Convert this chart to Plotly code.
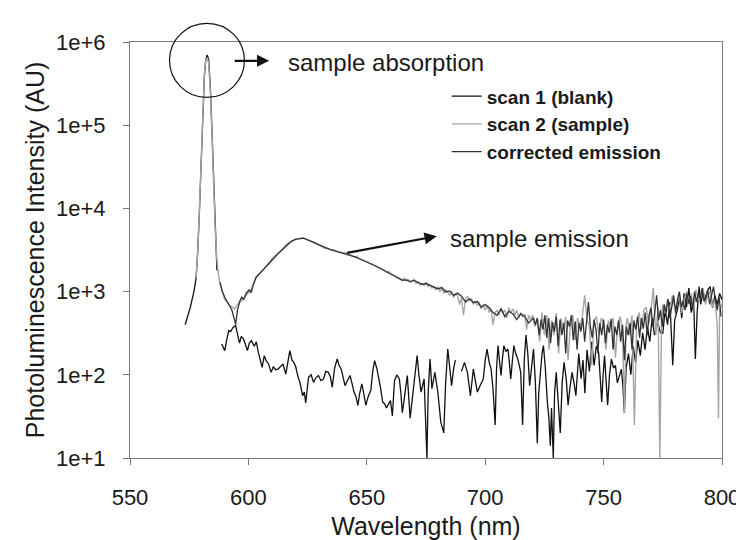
import plotly.graph_objects as go

# scan 1 (blank) -- None marks the breaks in the trace
blank_nm = [573.3, 574, 574.8, 575.5, 576.2, 577, 577.9, 578.6, 579.3, 580, 580.7, 581.4, 582, 582.6,
            583.2, 583.9, 584.6, 585.3, 586, 586.7, 587.5,
            588.75, 590, 590.8, 591.7, 592.5, 593.5, 594.6, 595.4, 596.25, 597, 597.9, 598.8, 599.6,
            600.4, 601.25, 602.5, 603.3, 604.2, 605, 605.8, 606.7, 607.5, 608.5, 609.6, 610.5, 611.5,
            612.5, 613.5, 614.6, 615.8, 616.6, 617.5, 618.4, 619.2, 620, 620.8, 621.8, 622.9, 623.6,
            624.2, 625.4, 626.5, 627.5, 628.5, 629.6, 630.6, 631.7, 632.7, 633.75, 634.6, 635.4, 636.4,
            637.5, 638.3, 639.2, 640, 640.8, 641.8, 642.9, 643.7, 644.6, 645.4, 646.25, 647, 647.9,
            648.7, 649.6, 650.6, 651.7, 652.5, 653.3, 654.2, 655, 655.8, 656.7, 657.5, 658.3, 659.2,
            660, 660.8, 661.7, 662.7, 663.75, 664.4, 665, 665.8, 667.1, 668.3, 669.2, 670, 671.25, 672,
            672.9, 674.2, 675, 675.4, 675.9, 676.7, 677.5, 678.75, 680, 680.6, 681.25, 682.5, 683.3,
            684.2, 685, 685.8, 686.7, 687.4, 688.5,
            690, 691.25, 692.5, 693.75, 695, 695.8, 696.7, 697.9, 699.2, 700, 700.8, 701.7, 702.5,
            703.3, 704.2, 704.8, 705.4, 706, 706.7, 707.3, 707.9, 708.7, 709.6, 710.2, 710.8, 711.5,
            712.1, 712.9, 713.75, 714.4, 715, 715.8, 716.5, 717.2, 718, 718.75, 719.6, 720.4, 721.2,
            722, 722.6, 723.3, 724, 724.6, 725.4, 726.25, 726.9, 727.5, 728, 728.75, 729.3, 730, 730.4,
            731, 731.7, 732.5, 733.3, 734.2, 735, 735.8, 736.7, 737.5, 738.3, 739.5, 740.5, 741.3,
            742.1, 743, 744, 745, 746, 746.9, 747.9, 748.6, 749.2, 749.8, 750.4, 751, 751.7, 752.5,
            753.3, 754.2, 755, 755.8, 756.7, 757.5, 758.2, 758.75, 759.5, 760.5, 761.5, 762.5, 763.5,
            764.5, 765.5, 766.5, 767.5, 768.5, 769.5, 770.5, 771.5, 772.9, 774, 775, 776, 777, 778,
            779.2, 780, 781.25, 782, 783, 784, 785, 786, 787, 788, 788.75, 789.5, 790.3, 791, 792, 793,
            794, 795, 796, 797, 798, 799, 800]
blank_int = [400, 460, 560, 650, 800, 1000, 1450, 3000, 9000, 35000, 130000, 380000, 620000, 700000,
             620000, 300000, 90000, 22000, 5000, 1800, None,
             234, 195, 260, 340, 330, 370, 390, 300, 240, 290, 270, 230, 195,
             240, 257, 220, 250, 186, 150, 123, 170, 148, 135, 107, 125, 115,
             117, 125, 135, 102, 140, 195, 150, 141, 125, 98, 80, 56, 62,
             46, 93, 100, 81, 92, 98, 85, 89, 110, 107, 95, 71, 120,
             155, 130, 117, 90, 74, 85, 98, 80, 62, 55, 43, 60, 78,
             60, 43, 55, 65, 110, 148, 120, 93, 70, 47, 45, 40, 45,
             49, 32, 85, 100, 89, 60, 35, 51, 98, 30, 50, 74, 170, 100,
             62, 89, 20, 10, 60, 155, 68, 107, 62, 40, 27, 20, 80,
             204, 120, 74, 120, 150, None,
             110, 141, 107, 56, 117, 90, 62, 75, 89, 150, 204, 140, 117,
             68, 25, 120, 224, 150, 98, 160, 224, 190, 204, 140, 89, 150,
             224, 180, 155, 130, 107, 25, 150, 300, 180, 74, 130, 204, 80,
             15, 60, 107, 180, 224, 120, 47, 30, 14, 40, 10, 60, 107, 74,
             40, 20, 80, 141, 90, 43, 70, 107, 80, 56, 180, 90, 150,
             60, 200, 110, 250, 130, 220, 186, 90, 47, 100, 170, 90, 43, 100,
             155, 120, 130, 80, 100, 117, 70, 35, 120, 180, 100, 220, 140,
             260, 170, 320, 200, 380, 250, 480, 300, 420, 320, 316, 600, 400, 750,
             130, 450, 620, 880, 480, 950, 650, 1100, 560, 820, 155, 560, 1150, 700, 1000, 760,
             1050, 1150, 640, 900, 700, 950, 800]

# scan 2 (sample)
sample_nm = [577.9, 578.6, 579.3, 580, 580.7, 581.4, 582, 582.6, 583.2, 583.9, 584.6, 585.3, 586,
             586.7, 587.5, 588.3, 589.2, 590, 591.7, 593, 594.2, 595.4, 596.7, 597.9, 599, 600.4,
             601, 601.7, 603.3, 604.2, 605, 605.8, 606.7, 607.5, 608.3, 609.2, 610, 610.8, 611.7,
             612.5, 613.3, 614.2, 615, 615.8, 616.7, 617.5, 618.3, 619.2, 620, 620.8, 621.7, 622.5,
             623.3, 624.2, 625, 625.8, 626.7, 627.5, 628.3, 629.2, 630, 630.8, 631.7, 632.5, 633.3,
             634.2, 635, 635.8, 636.7, 637.5, 638.3, 639.2, 640, 640.8, 641.7, 642.5, 643.3, 644.2,
             645, 645.8, 646.7, 647.5, 648.3, 649.2, 650, 650.8, 651.7, 652.5, 653.3, 654.2, 655,
             655.8, 656.7, 657.5, 658.3, 659.2, 660, 660.8, 661.7, 662.5, 663.3, 664.2, 665, 665.8,
             666.7, 667.5, 668.3, 669.2, 670, 670.8, 671.7, 672.5, 673.3, 674.2, 675, 675.8, 676.7,
             677.5, 678.3, 679.2, 680, 680.8, 681.7, 682.5, 683.3, 684.2, 685, 685.8, 686.7, 687.5,
             688.3, 689.2, 690, 690.8, 691.7, 692.5, 693.3, 694.2, 695, 695.8, 696.7, 697.5, 698.3,
             699.2, 700, 700.8, 701.7, 702.5, 703.3, 704.2, 705, 705.8, 706.7, 707.5, 708.3, 709.2,
             710, 710.8, 711.7, 712.5, 713.3, 714.2, 715, 715.8, 716.7, 717.5, 718.3, 719.2, 720,
             721, 722, 723, 724, 725, 726, 727, 728, 729, 730, 731, 732, 733, 734, 735, 736, 737, 738,
             739, 740, 741, 742, 743, 744, 745, 746, 747, 748, 749, 750, 751, 752, 753, 754, 755, 756,
             757, 758, 758.8, 759.5, 760, 761, 762, 763, 764, 765, 766, 767, 768, 769, 770, 771, 772,
             773, 773.75, 774.5, 775, 776, 777, 778, 779, 780, 781, 782, 783, 784, 785, 786, 787, 788,
             789, 790, 791, 792, 793, 794, 795, 796, 797, 798, 798.5, 799, 800]
sample_int = [1450, 3000, 9500, 40000, 150000, 420000, 610000, 650000, 560000, 260000, 80000, 20000,
              5500, 2400, 1500, 1150, 950, 800, 700, 650, 620, 700, 760, 810, 900, 1000,
              960, 1150, 1520, 1600, 1700, 1780, 1900, 2050, 2150, 2300, 2500, 2600, 2750,
              2850, 3050, 3200, 3400, 3650, 3800, 3950, 4100, 4200, 4300, 4250, 4400, 4450,
              4400, 4300, 4200, 4150, 4000, 3900, 3850, 3700, 3600, 3500, 3450, 3300, 3350,
              3250, 3150, 3200, 3100, 3050, 2950, 3000, 2900, 2950, 2850, 2800, 2750, 2700,
              2600, 2650, 2500, 2450, 2400, 2350, 2300, 2250, 2150, 2150, 2050, 2000, 1950,
              1900, 1850, 1800, 1700, 1750, 1650, 1600, 1550, 1500, 1450, 1420, 1380, 1450,
              1350, 1400, 1300, 1330, 1400, 1250, 1300, 1200, 1250, 1180, 1300, 1150, 1200,
              1100, 1150, 1050, 1150, 1000, 1100, 950, 1050, 980, 900, 1000, 850, 950,
              900, 700, 850, 520, 800, 880, 780, 820, 700, 760, 680, 740, 620,
              700, 600, 680, 560, 620, 400, 560, 600, 520, 640, 560, 600, 480,
              640, 560, 620, 520, 600, 480, 560, 500, 540, 350, 520, 460, 520,
              380, 480, 250, 560, 300, 520, 200, 450, 300, 550, 180, 480, 350, 500, 150, 420, 520, 260,
              480, 380, 500, 900, 460, 380, 130, 450, 500, 300, 480, 420, 200, 450, 380, 480, 160, 420,
              500, 330, 35, 400, 480, 300, 520, 25, 450, 560, 350, 600, 650, 400, 600, 1100, 300,
              650, 10, 500, 700, 550, 800, 600, 900, 650, 700, 900, 550, 800, 1000, 700, 950, 600,
              1050, 800, 900, 1100, 700, 900, 1000, 650, 800, 400, 30, 600, 700]

# corrected emission
corr_nm = [588, 589, 590, 591, 592, 593, 594.2, 594.6, 595.4, 596.3, 597.2, 598, 599, 600.4, 601.2,
           602, 603.3, 605, 606.7, 608.3, 610, 611.7, 613.3, 615, 616.7, 618.3, 620, 621.7, 623.3,
           625, 626.7, 628.3, 630, 631.7, 633.3, 635, 636.7, 638.3, 640, 641.7, 643.3, 645, 646.7,
           648.3, 650, 651.7, 653.3, 655, 656.7, 658.3, 660, 661.7, 663.3, 665, 666.7, 668.3, 670,
           671.7, 673.3, 675, 676.7, 678.3, 680, 681.7, 683.3, 685, 686.7, 688.3, 690, 691.7,
           693.3, 695, 696.7, 698.3, 700, 701.7, 703.3, 705, 706.7, 708.3, 710, 711.7, 713.3, 715,
           716.7, 718.3, 720.4, 721.2, 722, 722.8, 723.6, 724.4, 725.2, 726, 726.8, 727.6, 728.4,
           729.2, 730, 730.8, 731.6, 732.4, 733.2, 734, 734.8, 735.6, 736.4, 737.2, 738, 738.8,
           739.6, 740.4, 741.2, 742, 742.8, 743.6, 744.4, 745.2, 746, 746.8, 747.6, 748.4, 749.2,
           750, 750.8, 751.6, 752.4, 753.2, 754, 754.8, 755.6, 756.4, 757.2, 758, 758.8, 759.6,
           760.4, 761.2, 762, 762.8, 763.6, 764.4, 765.2, 766, 766.8, 767.6, 768.4, 769.2, 770,
           770.8, 771.6, 772.4, 773.2, 774, 774.8, 775.6, 776.4, 777.2, 778, 778.8, 779.6, 780.4,
           781.2, 782, 782.8, 783.6, 784.4, 785.2, 786, 786.8, 787.6, 788.4, 789.2, 790, 790.8,
           791.6, 792.4, 793.2, 794, 794.8, 795.6, 796.4, 797.2, 798, 798.8, 799.6]
corr_int = [1300, 1000, 860, 760, 700, 600, 450, 400, 600, 760, 860, 800, 950, 1050, 980,
            1200, 1480, 1680, 1880, 2120, 2450, 2700, 3000, 3350, 3750, 4050, 4250, 4350, 4380,
            4180, 3980, 3800, 3580, 3420, 3300, 3180, 3080, 2980, 2920, 2840, 2740, 2620, 2480,
            2380, 2280, 2140, 2060, 1950, 1830, 1720, 1640, 1540, 1440, 1370, 1380, 1320, 1360,
            1270, 1220, 1250, 1180, 1120, 1080, 1120, 990, 1020, 900, 960, 880, 750, 820,
            740, 760, 650, 700, 640, 560, 520, 620, 500, 580, 540, 460, 540, 500, 420,
            480, 400, 480, 300, 460, 350, 520, 280, 480, 240, 430, 330, 500,
            220, 460, 300, 420, 180, 450, 380, 520, 260, 440, 200, 420, 330,
            480, 250, 400, 750, 380, 280, 460, 350, 180, 420, 300, 460, 240,
            400, 320, 470, 200, 380, 300, 450, 250, 400, 150, 380, 300, 420,
            200, 450, 350, 500, 280, 480, 360, 560, 300, 520, 640, 380, 560,
            900, 450, 600, 380, 700, 550, 820, 480, 700, 900, 550, 800, 1000,
            650, 780, 600, 950, 720, 880, 600, 1000, 750, 950, 820, 1100, 760,
            900, 1050, 700, 950, 1150, 800, 600, 850, 500, 700, 900]

y_tick_vals = [10, 100, 1000, 10000, 100000, 1000000]
y_tick_text = ["1e+1", "1e+2", "1e+3", "1e+4", "1e+5", "1e+6"]
x_tick_vals = [550, 600, 650, 700, 750, 800]

FONT = "Liberation Sans, Arial, sans-serif"
INK = "#1a1a1a"

fig = go.Figure()
fig.add_trace(go.Scatter(x=blank_nm, y=blank_int, mode="lines", name="scan 1 (blank)",
                         line=dict(color="#111111", width=1.3)))
fig.add_trace(go.Scatter(x=sample_nm, y=sample_int, mode="lines", name="scan 2 (sample)",
                         line=dict(color="#a6a6a6", width=1.4)))
fig.add_trace(go.Scatter(x=corr_nm, y=corr_int, mode="lines", name="corrected emission",
                         line=dict(color="#333333", width=1.3)))

axis_common = dict(showline=True, linecolor="#7a7a7a", linewidth=1, mirror=True,
                   showgrid=False, zeroline=False, ticks="outside", ticklen=6,
                   tickcolor="#7a7a7a", tickfont=dict(family=FONT, size=22, color=INK))
fig.update_xaxes(range=[550, 800], tickvals=x_tick_vals, ticklabelstandoff=14,
                 title=dict(text="Wavelength (nm)", font=dict(family=FONT, size=25, color=INK), standoff=8),
                 **axis_common)
fig.update_yaxes(type="log", range=[1, 6], tickvals=y_tick_vals, ticktext=y_tick_text,
                 ticklabelstandoff=13,
                 title=dict(text="Photoluminescence Intensity (AU)", font=dict(family=FONT, size=25, color=INK),
                            standoff=4),
                 **axis_common)

# circle around the absorption peak and the two callouts
fig.add_shape(type="circle", xref="paper", yref="paper", x0=0.0667, x1=0.1933, y0=0.8667, y1=1.045,
              line=dict(color="#111111", width=1.2))
fig.add_annotation(xref="paper", yref="paper", x=0.235, y=0.9548, ax=-36, ay=0, text="",
                   showarrow=True, arrowhead=2, arrowsize=1.1, arrowwidth=2.2, arrowcolor="#111111")
fig.add_annotation(xref="paper", yref="paper", x=0.263, y=0.95, text="sample absorption",
                   showarrow=False, xanchor="left", yanchor="middle",
                   font=dict(family=FONT, size=24, color=INK))
fig.add_annotation(xref="paper", yref="paper", x=0.518, y=0.5333, ax=-91, ay=17, text="",
                   showarrow=True, arrowhead=2, arrowsize=1.1, arrowwidth=2.2, arrowcolor="#111111")
fig.add_annotation(xref="paper", yref="paper", x=0.538, y=0.5286, text="sample emission",
                   showarrow=False, xanchor="left", yanchor="middle",
                   font=dict(family=FONT, size=24, color=INK))

fig.update_layout(
    width=744, height=540,
    margin=dict(l=122, r=22, t=34, b=86),
    paper_bgcolor="white", plot_bgcolor="white",
    legend=dict(x=0.535, y=0.915, xanchor="left", yanchor="top", bgcolor="rgba(0,0,0,0)",
                font=dict(family=FONT, size=19, color=INK, weight="bold"), tracegroupgap=0),
)
fig.write_html("out.html")
